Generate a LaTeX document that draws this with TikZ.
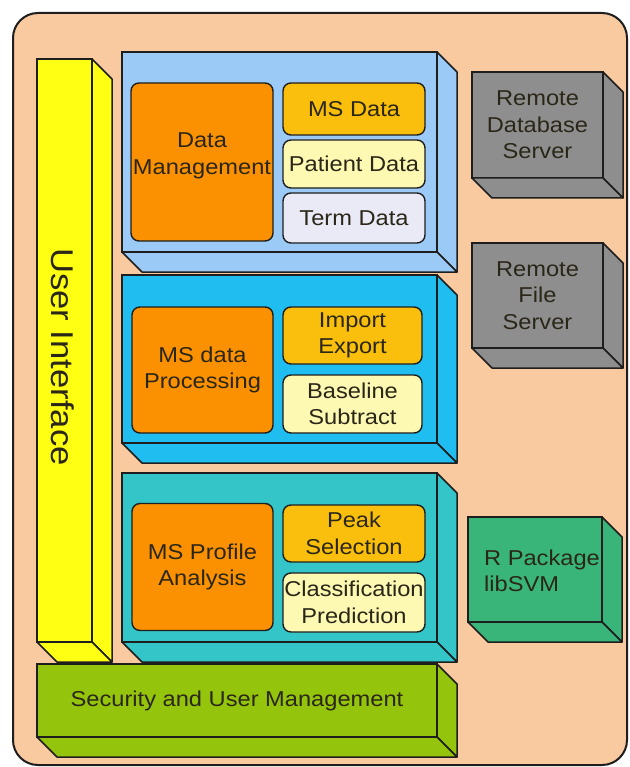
\documentclass[tikz,border=0pt]{standalone}
\usepackage{fontspec}
\setmainfont{Liberation Sans}[FakeStretch=1.1]
\definecolor{edge}{HTML}{1E1E1E}
\definecolor{txt}{HTML}{2A2618}
\definecolor{peach}{HTML}{F9C9A0}
\definecolor{uiyellow}{HTML}{FFFF14}
\definecolor{dmblue}{HTML}{9CCAF6}
\definecolor{prcyan}{HTML}{20BDF0}
\definecolor{anteal}{HTML}{33C5C8}
\definecolor{secgreen}{HTML}{94C40C}
\definecolor{orng}{HTML}{FB9100}
\definecolor{gold}{HTML}{F9BF0C}
\definecolor{lyellow}{HTML}{FDF8B2}
\definecolor{lav}{HTML}{E9EAF6}
\definecolor{srvgray}{HTML}{8E8E8E}
\definecolor{rgreen}{HTML}{3AB57A}
\newcommand\lbl{\fontsize{21.5}{26.5}\selectfont}
\newcommand\depthfaces[2]{%
  \filldraw[fill=#2,draw=edge,line width=1.5pt,line join=round]
    (#1.north east) -- ++(20,20) -- ([shift={(20,20)}]#1.south east) -- (#1.south east) -- cycle;
  \filldraw[fill=#2,draw=edge,line width=1.5pt,line join=round]
    (#1.south west) -- ([shift={(20,20)}]#1.south west) -- ([shift={(20,20)}]#1.south east) -- (#1.south east) -- cycle;}
\tikzset{
  frontface/.style={draw=edge,line width=1.5pt,outer sep=0pt,inner sep=0pt,align=center,font=\lbl,text=txt},
  inbox/.style={draw=edge,line width=1.4pt,rounded corners=8pt,outer sep=0pt,inner sep=0pt,align=center,font=\lbl,text=txt},
}
\begin{document}
\begin{tikzpicture}[x=1pt,y=-1pt]
\useasboundingbox[fill=white] (0,0) rectangle (629,767);
\filldraw[fill=peach,draw=edge,line width=2pt,rounded corners=25pt] (13,13) rectangle (627,765);

% user interface bar
\node[frontface,fill=uiyellow,minimum width=55pt,minimum height=583pt] (ui) at (64.5,350.5) {};
\depthfaces{ui}{uiyellow}
\node[rotate=-90,font=\fontsize{31.5}{34}\selectfont,text=txt] (uitext) at (63,357) {User Interface};

% data management
\node[frontface,fill=dmblue,minimum width=315pt,minimum height=200pt] (dm) at (279.5,152) {};
\depthfaces{dm}{dmblue}
\node[inbox,fill=orng,minimum width=142pt,minimum height=158pt] (dmm) at (202,162) {};
\node[font=\lbl,text=txt,align=center] (dmmt) at (202,156) {Data\\Management};
\node[inbox,fill=gold,minimum width=142pt,minimum height=52pt] (msd) at (354,109) {MS Data};
\node[inbox,fill=lyellow,minimum width=142pt,minimum height=48pt] (pd) at (354,164) {Patient Data};
\node[inbox,fill=lav,minimum width=142pt,minimum height=50pt] (td) at (354,218) {Term Data};

% processing
\node[frontface,fill=prcyan,minimum width=315pt,minimum height=168pt] (pr) at (279.5,359) {};
\depthfaces{pr}{prcyan}
\node[inbox,fill=orng,minimum width=141pt,minimum height=126pt] (prm) at (202.5,370) {MS data\\Processing};
\node[inbox,fill=gold,minimum width=139pt,minimum height=57pt] (ie) at (352.5,335.5) {Import\\Export};
\node[inbox,fill=lyellow,minimum width=139pt,minimum height=58pt] (bs) at (352.5,404) {Baseline\\Subtract};

% analysis
\node[frontface,fill=anteal,minimum width=315pt,minimum height=169pt] (an) at (279.5,557.5) {};
\depthfaces{an}{anteal}
\node[inbox,fill=orng,minimum width=141pt,minimum height=127pt] (anm) at (202.5,567) {MS Profile\\Analysis};
\node[inbox,fill=gold,minimum width=142pt,minimum height=57pt] (ps) at (354,533.5) {Peak\\Selection};
\node[inbox,fill=lyellow,minimum width=142pt,minimum height=59pt] (cp) at (354,602.5) {Classification\\Prediction};

% security
\node[frontface,fill=secgreen,minimum width=400pt,minimum height=73pt] (sec) at (237,700.5) {Security and User Management};
\depthfaces{sec}{secgreen}

% servers
\node[frontface,fill=srvgray,minimum width=131pt,minimum height=106pt] (rdb) at (537.5,125) {Remote\\Database\\Server};
\depthfaces{rdb}{srvgray}
\node[frontface,fill=srvgray,minimum width=131pt,minimum height=105pt] (rfs) at (537.5,295.5) {Remote\\File\\Server};
\depthfaces{rfs}{srvgray}
\node[frontface,fill=rgreen,minimum width=134pt,minimum height=105pt] (rp) at (535,569.5) {};
\depthfaces{rp}{rgreen}
\node[font=\lbl,text=txt,align=left] (rpt) at (542,571) {R Package\\libSVM};
\end{tikzpicture}
\end{document}
